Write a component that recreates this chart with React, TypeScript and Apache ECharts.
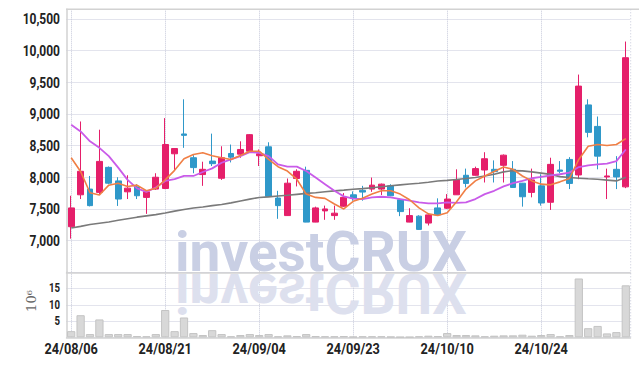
import React, { useEffect, useRef } from 'react';
import * as echarts from 'echarts';

const dates = [
  '24/08/06', '24/08/07', '24/08/08', '24/08/09', '24/08/12', '24/08/13', '24/08/14', '24/08/16', '24/08/19', '24/08/20',
  '24/08/21', '24/08/22', '24/08/23', '24/08/26', '24/08/27', '24/08/28', '24/08/29', '24/08/30', '24/09/02', '24/09/03',
  '24/09/04', '24/09/05', '24/09/06', '24/09/09', '24/09/10', '24/09/11', '24/09/12', '24/09/13', '24/09/19', '24/09/20',
  '24/09/23', '24/09/24', '24/09/25', '24/09/26', '24/09/27', '24/09/30', '24/10/02', '24/10/04', '24/10/07', '24/10/08',
  '24/10/10', '24/10/11', '24/10/14', '24/10/15', '24/10/16', '24/10/17', '24/10/18', '24/10/21', '24/10/22', '24/10/23',
  '24/10/24', '24/10/25', '24/10/28', '24/10/29', '24/10/30', '24/10/31', '24/11/01', '24/11/04', '24/11/05', '24/11/06',
];

// [open, close, low, high]
const ohlc = [
  [7219, 7516, 7031, 7708], [7723, 8094, 7656, 8880], [7813, 7552, 7540, 8020], [7761, 8250, 7730, 8750],
  [8156, 7906, 7890, 8170], [7942, 7656, 7547, 8000], [7770, 7828, 7656, 8031], [7848, 7708, 7656, 7890],
  [7682, 7770, 7422, 7780], [7813, 8000, 7800, 8063], [7823, 8516, 7813, 8933], [8370, 8453, 8109, 8460],
  [8683, 8661, 8464, 9230], [8308, 8152, 8063, 8348], [8042, 8125, 7864, 8245], [8255, 8214, 8177, 8688],
  [7984, 8308, 7958, 8489], [8375, 8317, 8234, 8516], [8364, 8438, 8308, 8567], [8411, 8672, 8400, 8680],
  [8339, 8370, 8177, 8438], [8480, 7698, 7690, 8552], [7672, 7552, 7344, 7786], [7395, 7906, 7390, 7980],
  [7980, 8094, 7855, 8125], [8109, 7292, 7290, 8167], [7292, 7516, 7290, 7536], [7469, 7500, 7328, 7552],
  [7395, 7433, 7328, 7552], [7542, 7683, 7530, 7750], [7723, 7667, 7630, 7777], [7792, 7766, 7630, 7864],
  [7813, 7875, 7770, 7995], [7813, 7891, 7719, 7900], [7864, 7708, 7700, 7890], [7645, 7458, 7386, 7660],
  [7292, 7395, 7290, 7511], [7386, 7177, 7170, 7400], [7277, 7406, 7239, 7420], [7516, 7406, 7400, 7667],
  [7511, 7656, 7500, 7734], [7723, 7958, 7720, 8125], [8031, 7902, 7839, 8136], [8031, 8136, 8025, 8167],
  [8114, 8292, 7917, 8395], [8125, 8089, 7917, 8266], [8188, 8348, 7917, 8360], [8125, 7839, 7830, 8255],
  [7906, 7692, 7536, 7910], [7761, 7958, 7683, 8136], [7864, 7594, 7552, 8047], [7605, 8203, 7484, 8308],
  [8114, 8094, 8060, 8255], [8281, 7902, 7813, 8317], [8036, 9438, 7969, 9620], [9141, 8708, 8630, 9230],
  [8802, 8333, 8125, 8958], [8005, 8020, 7656, 8136], [8125, 8005, 7813, 8333], [7848, 9886, 7828, 10141],
];

const maShort = [
  8308, 8090, 7755, 7719, 7875, 7906, 7855, 7875, 7786, 7825,
  7958, 8109, 8292, 8359, 8386, 8340, 8308, 8281, 8344, 8411,
  8411, 8281, 8167, 8098, 7969, 7734, 7682, 7667, 7578, 7500,
  7620, 7667, 7734, 7786, 7786, 7734, 7645, 7516, 7422, 7395,
  7438, 7614, 7813, 7942, 8020, 8090, 8161, 8125, 8020, 7942,
  7891, 7880, 7927, 7980, 8281, 8489, 8516, 8500, 8516, 8609,
];

const maMid = [
  8828, 8723, 8567, 8464, 8333, 8152, 7958, 7823, 7770, 7839,
  7942, 7969, 8020, 8020, 8083, 8140, 8229, 8281, 8333, 8395,
  8386, 8333, 8203, 8167, 8167, 8098, 7995, 7891, 7786, 7698,
  7662, 7656, 7682, 7692, 7682, 7656, 7630, 7604, 7589, 7589,
  7604, 7594, 7604, 7656, 7734, 7786, 7855, 7906, 7942, 7984,
  8005, 8031, 8047, 8073, 8161, 8188, 8203, 8214, 8255, 8438,
];

const maLong = [
  7200, 7225, 7255, 7275, 7295, 7320, 7345, 7370, 7390, 7410,
  7435, 7465, 7490, 7515, 7530, 7552, 7570, 7595, 7625, 7655,
  7680, 7690, 7705, 7715, 7730, 7745, 7755, 7770, 7785, 7797,
  7810, 7820, 7835, 7850, 7865, 7880, 7893, 7905, 7920, 7940,
  7950, 7965, 7980, 7995, 8020, 8047, 8085, 8105, 8100, 8085,
  8065, 8045, 8010, 7995, 7985, 7975, 7968, 7955, 7942, 8000,
];

// millions of shares
const volume = [
  1.9, 6.8, 1.0, 5.5, 1.0, 1.0, 1.0, 0.4, 0.3, 1.0,
  8.4, 1.9, 6.1, 1.3, 0.7, 2.2, 1.0, 0.3, 0.7, 1.0,
  0.7, 1.0, 0.3, 0.6, 0.4, 1.0, 0.4, 0.3, 0.3, 0.4,
  0.2, 0.3, 0.3, 0.3, 0.2, 0.1, 0.1, 0.3, 0.5, 0.4,
  1.3, 0.7, 0.7, 0.6, 0.3, 0.5, 0.6, 0.6, 0.8, 0.5,
  0.7, 1.0, 0.3, 0.7, 18.1, 2.8, 3.5, 1.2, 1.6, 16.0,
];

const yTickLabels = [7000, 7500, 8000, 8500, 9000, 9500, 10000, 10500];
const volTickLabels = [5, 10, 15];
const xLabelIndices = [0, 10, 20, 30, 40, 50];

export default function App() {
  const ref = useRef<HTMLDivElement>(null);
  useEffect(() => {
    const chart = echarts.init(ref.current!, null, { renderer: 'svg' });
    const gridLine = { show: true, lineStyle: { color: '#c6c9da', type: 'dotted', width: 1 } };
    const left = 66.5;
    const right = 8.5;
    chart.setOption({
      animation: false,
      grid: [
        { left, right, top: 9.3, height: 263 },
        { left, right, top: 272.3, height: 65 },
      ],
      xAxis: [
        {
          type: 'category', gridIndex: 0, data: dates, boundaryGap: true,
          axisLine: { show: true, lineStyle: { color: '#d2d2d2', width: 1.5 } },
          axisTick: { show: false }, axisLabel: { show: false },
          splitLine: { ...gridLine, interval: 9, alignWithLabel: true },
        },
        {
          type: 'category', gridIndex: 1, data: dates, boundaryGap: true,
          axisLine: { show: true, lineStyle: { color: '#d2d2d2', width: 1.5 } },
          axisTick: { show: false }, axisLabel: { show: false },
          splitLine: { ...gridLine, interval: 9, alignWithLabel: true },
        },
      ],
      yAxis: [
        {
          type: 'value', gridIndex: 0, min: 6500, max: 10650, interval: 500,
          axisLine: { show: true, lineStyle: { color: '#d2d2d2', width: 1.5 } },
          axisTick: { show: false }, axisLabel: { show: false },
          splitLine: gridLine,
        },
        {
          type: 'value', gridIndex: 1, min: 0, max: 20, interval: 5,
          axisLine: { show: true, lineStyle: { color: '#d2d2d2', width: 1.5 } },
          axisTick: { show: false }, axisLabel: { show: false },
          splitLine: gridLine,
        },
      ],
      series: [
        {
          type: 'candlestick', xAxisIndex: 0, yAxisIndex: 0, data: ohlc, barWidth: '68%',
          itemStyle: { color: '#e51f6a', color0: '#2f98c9', borderColor: '#e51f6a', borderColor0: '#2f98c9', borderWidth: 1 },
        },
        {
          type: 'line', xAxisIndex: 0, yAxisIndex: 0, data: maLong, showSymbol: false,
          lineStyle: { color: '#7a7a7a', width: 1.6 },
        },
        {
          type: 'line', xAxisIndex: 0, yAxisIndex: 0, data: maMid, showSymbol: false,
          lineStyle: { color: '#c95be9', width: 1.8 },
        },
        {
          type: 'line', xAxisIndex: 0, yAxisIndex: 0, data: maShort, showSymbol: false,
          lineStyle: { color: '#f07f45', width: 1.6 },
        },
        {
          type: 'bar', xAxisIndex: 1, yAxisIndex: 1, data: volume, barWidth: '88%',
          itemStyle: { color: '#d8d8d8', borderColor: '#c4c4c4', borderWidth: 1 },
        },
      ],
    });

    const labelFont = 'bold 15px Roboto';
    const graphics: any[] = [
      {
        type: 'text', x: 175, y: 224, z: 0, silent: true,
        style: { text: 'investCRUX', font: 'bold 55px Roboto', fill: '#c9cfe4' },
      },
      {
        type: 'text', x: 175, y: 320, scaleY: -1, z: 0, silent: true,
        style: { text: 'investCRUX', font: 'bold 55px Roboto', fill: '#dde0ee' },
      },
      {
        type: 'line', z: 5, silent: true,
        shape: { x1: 66, y1: 9.3, x2: 639, y2: 9.3 },
        style: { stroke: '#d2d2d2', lineWidth: 1.5 },
      },
      {
        type: 'line', z: 5, silent: true,
        shape: { x1: 630.7, y1: 9.3, x2: 630.7, y2: 337.3 },
        style: { stroke: '#c6c9da', lineWidth: 1, lineDash: [1, 2] },
      },
      {
        type: 'text', x: 31, y: 301, rotation: Math.PI / 2, silent: true,
        style: { text: '10⁶', font: '13px "DejaVu Serif", serif', fill: '#666', align: 'center', verticalAlign: 'middle' },
      },
    ];
    yTickLabels.forEach((v) => {
      const py = chart.convertToPixel({ yAxisIndex: 0 }, v) as number;
      graphics.push({
        type: 'text', x: 60, y: py, scaleX: 0.8, silent: true,
        style: { text: v.toLocaleString('en-US'), font: labelFont, fill: '#222', align: 'right', verticalAlign: 'middle' },
      });
    });
    volTickLabels.forEach((v) => {
      const py = chart.convertToPixel({ yAxisIndex: 1 }, v) as number;
      graphics.push({
        type: 'text', x: 60, y: py, scaleX: 0.8, silent: true,
        style: { text: String(v), font: 'bold 12px Roboto', fill: '#222', align: 'right', verticalAlign: 'middle' },
      });
    });
    xLabelIndices.forEach((i) => {
      const px = chart.convertToPixel({ xAxisIndex: 1 }, dates[i]) as number;
      graphics.push({
        type: 'text', x: px, y: 349, scaleX: 0.85, silent: true,
        style: { text: dates[i], font: labelFont, fill: '#222', align: 'center', verticalAlign: 'middle' },
      });
    });
    chart.setOption({ graphic: graphics });
    return () => chart.dispose();
  }, []);
  return <div ref={ref} style={{ position: 'fixed', left: 0, top: 0, width: 639, height: 366, background: '#fff' }} />;
}
